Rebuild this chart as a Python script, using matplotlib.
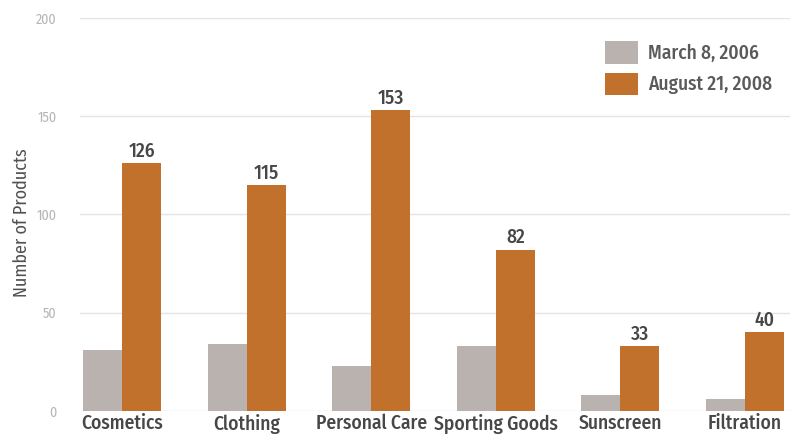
import matplotlib
matplotlib.use('Agg')
import matplotlib.pyplot as plt
import numpy as np

plt.rcParams['font.family'] = ['Fira Sans Condensed', 'DejaVu Sans']

categories = ['Cosmetics', 'Clothing', 'Personal Care', 'Sporting Goods', 'Sunscreen', 'Filtration']
march_2006 = [31, 34, 23, 33, 8, 6]
august_2008 = [126, 115, 153, 82, 33, 40]
series_labels = ['March 8, 2006', 'August 21, 2008']

gray = '#B9B2AF'
orange = '#C1712B'
text_dark = '#474747'

fig = plt.figure(figsize=(7.93, 4.37), dpi=100)
ax = fig.add_axes([0.101, 0.0595, 0.895, 0.8995])

x = np.arange(len(categories))
w = 0.313
ax.bar(x - w / 2, march_2006, w, color=gray, label=series_labels[0], zorder=2)
bars = ax.bar(x + w / 2, august_2008, w, color=orange, label=series_labels[1], zorder=2)

# value labels on the 2008 bars
for b, v in zip(bars, august_2008):
    ax.text(b.get_x() + b.get_width() / 2, v + 1.2, str(v), ha='center', va='bottom',
            fontsize=14, fontweight='medium', color=text_dark)

ax.set_ylim(0, 200)
ax.set_xlim(-0.337, 5.36)
ax.set_yticks([0, 50, 100, 150, 200])
ax.yaxis.grid(True, color='#e4e4e4', linewidth=1, zorder=0)
ax.tick_params(axis='y', length=0, labelsize=10, labelcolor='#b5b5b5', pad=17)
ax.set_xticks(x)
ax.set_xticklabels(categories, fontsize=14, color=text_dark, fontweight='medium')
ax.tick_params(axis='x', length=0, pad=2)
for s in ax.spines.values():
    s.set_visible(False)
ax.set_ylabel('Number of Products', fontsize=13, color='#505050')
ax.yaxis.set_label_coords(-0.07, 0.48)

leg = ax.legend(loc='upper right', bbox_to_anchor=(1.0, 0.985), frameon=False,
                fontsize=14, handlelength=1.7, handleheight=1.4, labelspacing=0.45,
                handletextpad=0.5)
for t in leg.get_texts():
    t.set_color('#5a5a5a')
    t.set_fontweight('medium')

fig.savefig('out.png', dpi=100)
